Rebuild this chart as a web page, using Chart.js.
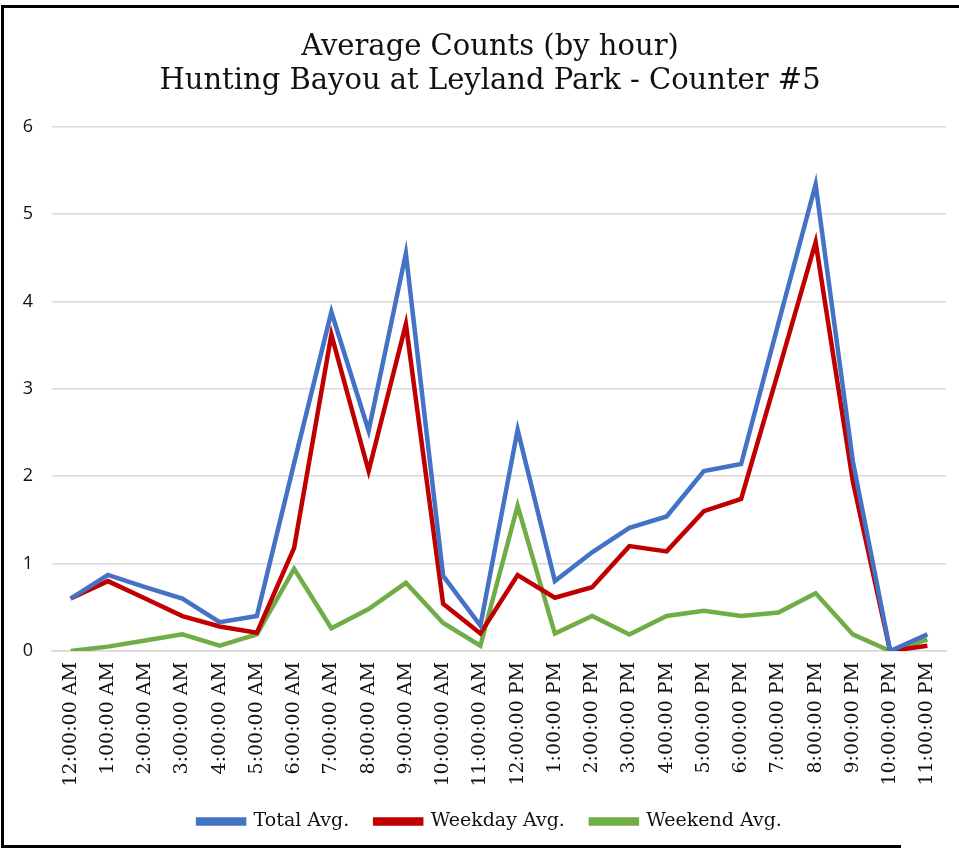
<!DOCTYPE html>
<html>
<head>
<meta charset="utf-8">
<script src="https://cdn.jsdelivr.net/npm/chart.js@4.4.1/dist/chart.umd.min.js"></script>
<style>
  html, body { margin: 0; padding: 0; background: #fff; overflow: hidden; }
  #wrap { position: relative; width: 959px; height: 848px; overflow: hidden; }
  #c { position: absolute; left: 0; top: 0; }
</style>
</head>
<body>
<div id="wrap"><canvas id="c" width="980" height="848"></canvas></div>
<script>
const hours = ["12:00:00 AM","1:00:00 AM","2:00:00 AM","3:00:00 AM","4:00:00 AM","5:00:00 AM","6:00:00 AM","7:00:00 AM","8:00:00 AM","9:00:00 AM","10:00:00 AM","11:00:00 AM","12:00:00 PM","1:00:00 PM","2:00:00 PM","3:00:00 PM","4:00:00 PM","5:00:00 PM","6:00:00 PM","7:00:00 PM","8:00:00 PM","9:00:00 PM","10:00:00 PM","11:00:00 PM"];
const totalAvg   = [0.60,0.87,0.73,0.60,0.33,0.40,2.15,3.88,2.52,4.55,0.86,0.29,2.53,0.80,1.13,1.41,1.54,2.06,2.14,3.75,5.34,2.17,0.00,0.19];
const weekdayAvg = [0.60,0.80,0.60,0.40,0.28,0.21,1.18,3.62,2.06,3.74,0.54,0.20,0.87,0.61,0.73,1.20,1.14,1.60,1.74,3.20,4.68,1.94,0.00,0.06];
const weekendAvg = [0.00,0.05,0.12,0.19,0.06,0.19,0.94,0.26,0.48,0.78,0.32,0.06,1.66,0.20,0.40,0.19,0.40,0.46,0.40,0.44,0.66,0.19,0.00,0.13];
const titleLines = ["Average Counts (by hour)", "Hunting Bayou at Leyland Park - Counter #5"];
const yTicks = [0,1,2,3,4,5,6];

const SERIF = "'DejaVu Serif', serif";
const SANS = "'Open Sans', sans-serif";

const frame = {
  id: 'frame',
  afterDraw(chart) {
    const ctx = chart.ctx;
    ctx.save();
    ctx.fillStyle = '#000';
    ctx.fillRect(1, 5, 958, 3);   // top
    ctx.fillRect(1, 5, 3, 843);   // left
    ctx.fillRect(1, 845, 900, 3); // bottom
    ctx.restore();
  }
};

function ds(label, data, color) {
  return {
    label, data,
    borderColor: color, backgroundColor: color,
    borderWidth: 4.5, pointRadius: 0, tension: 0,
    borderJoinStyle: 'miter', borderCapStyle: 'butt'
  };
}

new Chart(document.getElementById('c'), {
  type: 'line',
  data: {
    labels: hours,
    datasets: [
      ds('Total Avg.', totalAvg, '#4472C4'),
      ds('Weekday Avg.', weekdayAvg, '#C00000'),
      ds('Weekend Avg.', weekendAvg, '#70AD47')
    ]
  },
  options: {
    responsive: false,
    animation: false,
    layout: { padding: { left: 0, right: 0, top: 10, bottom: 7 } },
    plugins: {
      title: {
        display: true, text: titleLines, color: '#111',
        font: { family: SERIF, size: 29, weight: 'normal', lineHeight: 1.15 },
        padding: { top: 21, bottom: 29 }
      },
      legend: {
        position: 'bottom',
        labels: {
          color: '#111', boxWidth: 46, boxHeight: 4, padding: 26,
          font: { family: SERIF, size: 19 }
        }
      },
      tooltip: { enabled: false }
    },
    scales: {
      x: {
        offset: true,
        grid: { display: false },
        border: { display: true, color: '#d9d9d9', width: 1.5 },
        afterFit(axis) { axis.height = 135; },
        ticks: {
          color: '#111', maxRotation: 90, minRotation: 90, autoSkip: false,
          padding: 3,
          font: { family: SERIF, size: 19 }
        }
      },
      y: {
        min: 0, max: 6,
        afterBuildTicks(axis) { axis.ticks = yTicks.map(v => ({ value: v })); },
        afterFit(axis) { axis.width = 52; },
        grid: { color: '#d9d9d9', lineWidth: 1.5, drawTicks: false },
        border: { display: false },
        ticks: {
          color: '#111', padding: 19,
          font: { family: SANS, size: 18 }
        }
      },
      yRight: {
        position: 'right', min: 0, max: 6,
        afterFit(axis) { axis.width = 34; },
        grid: { display: false, drawTicks: false },
        border: { display: false },
        ticks: { display: false }
      }
    }
  },
  plugins: [frame]
});
</script>
</body>
</html>
